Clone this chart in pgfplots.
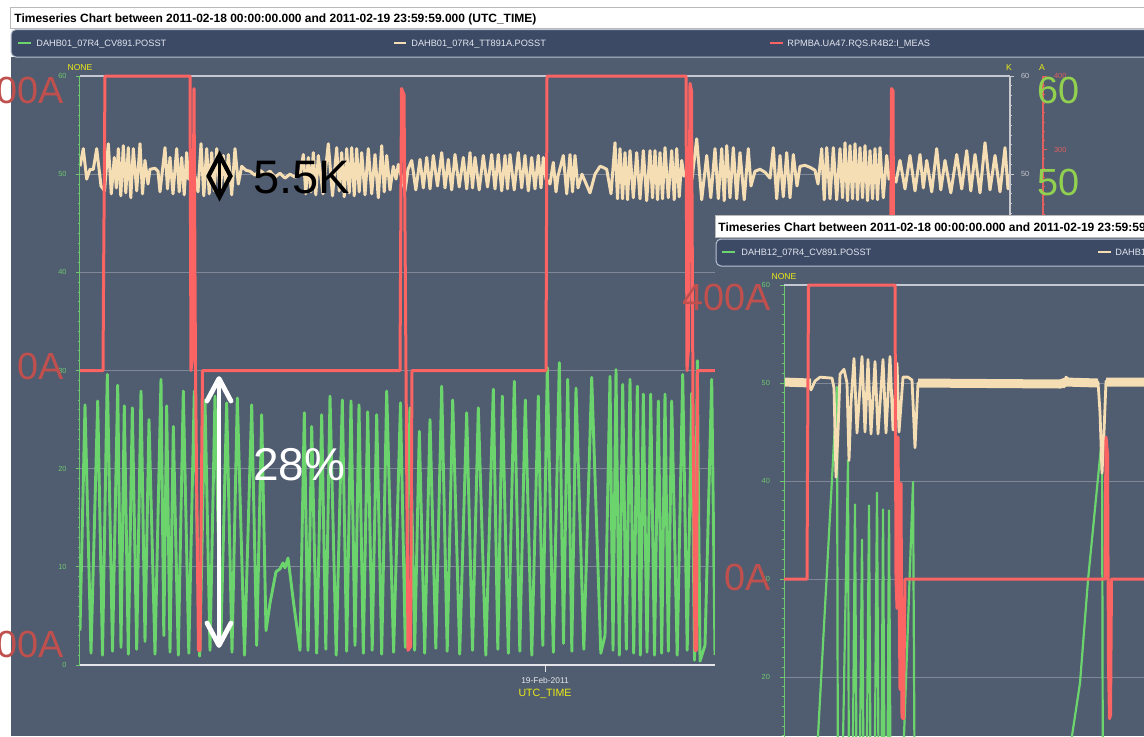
\documentclass[border=0pt]{standalone}
\usepackage{fontspec}
\setmainfont{Liberation Sans}
\usepackage{pgfplots}
\pgfplotsset{compat=1.18}

\definecolor{panel}{RGB}{80,92,112}
\definecolor{legendbar}{RGB}{61,74,102}
\definecolor{legendedge}{RGB}{185,195,210}
\definecolor{sig}{RGB}{108,212,108}
\definecolor{temp}{RGB}{245,222,180}
\definecolor{curr}{RGB}{252,100,100}
\definecolor{ticknone}{RGB}{110,200,110}
\definecolor{tickK}{RGB}{200,200,205}
\definecolor{tickA}{RGB}{225,95,95}
\definecolor{unitlab}{RGB}{235,235,20}
\definecolor{gridc}{RGB}{128,136,152}
\definecolor{topline}{RGB}{195,200,210}
\definecolor{bottomline}{RGB}{228,230,234}
\definecolor{bigred}{RGB}{192,80,77}
\definecolor{biggreen}{RGB}{146,208,80}
\definecolor{legtext}{RGB}{225,230,238}

\newcommand\fs[1]{\fontsize{#1}{#1}\selectfont}

\pgfplotsset{
  panelaxis/.style={
    scale only axis, anchor=south west,
    clip mode=individual,
    axis line style={draw=none},
    tick align=outside,
    major tick length=2pt, minor tick length=1.1pt,
    /pgf/number format/assume math mode=true,
    tick label style={font=\fs{3.7}},
  },
}

\begin{document}
\begin{tikzpicture}
\useasboundingbox (0,0) rectangle (572pt,-368pt);
\clip (0,0) rectangle (572pt,-368pt);

% ---------- frame, title and legend of the main chart ----------
\begin{scope}[x=0.5pt,y=-0.5pt]
  \fill[white] (0,0) rectangle (1144,736);
  \fill[panel] (11,57) rectangle (1144,736);
  \draw[fill=white, draw=gray!55, line width=0.5pt] (10,7) rectangle (1150,28);
  \node[anchor=base west, inner sep=0, font=\bfseries\fs{6}] at (14,22.5)
    {Timeseries Chart between 2011-02-18 00:00:00.000 and 2011-02-19 23:59:59.000 (UTC\_TIME)};
  \draw[fill=legendbar, draw=legendedge, line width=0.5pt, rounded corners=2.5pt] (11,29.5) rectangle (1160,57);
  % legend entries
  \draw[sig, line width=0.6pt] (18,43) -- (31,43);
  \fill[sig] (23.5,41.8) rectangle (25.5,44.2);
  \node[anchor=base west, inner sep=0, text=legtext, font=\fs{4.6}] at (36,46.3) {DAHB01\_07R4\_CV891.POSST};
  \draw[temp, line width=0.6pt] (394,43) -- (406,43);
  \fill[temp] (399,41.8) rectangle (401,44.2);
  \node[anchor=base west, inner sep=0, text=legtext, font=\fs{4.6}] at (411,46.3) {DAHB01\_07R4\_TT891A.POSST};
  \draw[curr, line width=0.6pt] (770,43) -- (783,43);
  \fill[curr] (775.5,41.8) rectangle (777.5,44.2);
  \node[anchor=base west, inner sep=0, text=legtext, font=\fs{4.6}] at (787,46.3) {RPMBA.UA47.RQS.R4B2:I\_MEAS};
  % unit captions of the three y axes and the time axis
  \node[anchor=base, inner sep=0, text=unitlab, font=\fs{4.3}] at (80,70) {NONE};
  \node[anchor=base, inner sep=0, text=unitlab, font=\fs{4.3}] at (1009,70) {K};
  \node[anchor=base, inner sep=0, text=unitlab, font=\fs{4.3}] at (1042,70) {A};
  \node[anchor=base, inner sep=0, text=unitlab, font=\fs{5.3}] at (545,696) {UTC\_TIME};
\end{scope}

% ---------- main chart: valve position (NONE) ----------
\begin{axis}[panelaxis, at={(40pt,-332.5pt)}, width=465pt, height=294.5pt,
  xmin=80, xmax=1010, ymin=0, ymax=60,
  ytick={0,10,...,60}, minor y tick num=9, ytick pos=left,
  y tick style={ticknone, line width=0.4pt},
  yticklabel style={text=ticknone, xshift=-1.2pt},
  xtick={545}, xticklabels={19-Feb-2011}, xtick pos=left,
  x tick style={draw=none},
  xticklabel style={text=bottomline, font=\fs{4.2}, yshift=-0.6pt},
  ymajorgrids, major grid style={gridc, line width=0.5pt}]
\addplot[sig, line width=1.45pt, line join=round] coordinates {
(80,3.5) (85,26.5) (91,1.2) (97.7,26.9) (102.5,1.0) (107.3,29.6) (112.5,1.4) (117.7,28.5)
(121,1.8) (124.3,26.4) (128.3,1.1) (132.3,26.2) (136.7,1.6) (141,27.9) (145,2.4) (149,25.0)
(155,1.1) (161,29.1) (163.8,3.0) (166.7,26.4) (170,1.3) (173.3,24.3) (178.3,1.0) (183.3,27.9)
(188.8,1.2) (194.3,27.9) (199.7,0.9) (205,27.0) (210,1.5) (215,27.4) (220.8,2.2) (226.7,26.7)
(232,1.3) (237.3,27.2) (244.5,1.0) (251.7,26.5) (256.7,2.0) (261.7,25.5) (266,3.5) (270,6.3)
(276,9.5) (280,9.8) (283,10.4) (285,9.9) (288,10.9) (294,6) (300,1.5) (304.3,25.7) (308,1.5)
(311.7,24.3) (316.7,1.2) (321.7,25.5) (325.8,1.6) (330,27.4) (336.2,1.0) (342.3,27.0) (346.7,1.4)
(351,26.9) (355,2.0) (359,26.5) (363.3,1.2) (367.7,25.8) (372.2,1.5) (376.7,25.5) (381.7,1.1)
(386.7,27.9) (393.6,1.3) (400.5,26.7) (405.3,1.8) (410,26.2) (414.7,1.5) (419.3,23.8) (424.7,1.2)
(430,25.0) (435.8,1.7) (441.7,28.4) (447.2,1.4) (452.7,27.0) (459.7,1.1) (466.7,25.7) (472.5,1.5)
(478.3,26.2) (485.8,1.0) (493.3,28.1) (497.8,1.6) (502.3,27.4) (508.3,1.2) (514.3,28.9) (519.8,1.4)
(525.3,27.0) (531.8,1.0) (538.3,27.4) (542.8,2.0) (547.3,30.3) (553.3,1.3) (559.3,30.8) (563.5,2.2)
(567.7,29.1) (571.8,1.4) (576,28.2) (583.8,1.6) (591.7,29.3) (600.8,1.2) (605,3) (610,29.4)
(613,1.5) (616,30.1) (619.3,1.0) (622.7,28.6) (626.3,1.6) (630,29.1) (633.7,1.2) (637.3,28.4)
(640.3,1.0) (643.3,27.6) (647,1.3) (650.7,27.6) (654.5,1.0) (658.3,26.9) (661.7,1.2) (665,27.6)
(668.3,1.4) (671.7,26.9) (677.2,1.0) (682.7,29.6) (687.2,1.5) (691.7,27.7) (694.5,0.5) (697.3,31.0)
(700,0.4) (705,2) (711.7,29.1) (715,1.0)
};
\draw[ticknone, line width=0.5pt] (rel axis cs:0,0) -- (rel axis cs:0,1);
\draw[bottomline, line width=0.7pt] (rel axis cs:0,0) -- (rel axis cs:1,0);
\draw[topline, line width=0.7pt] (rel axis cs:0,1) -- (rel axis cs:1,1);
\draw[bottomline, line width=0.5pt] (axis cs:545,0) -- ([yshift=-3.5pt]axis cs:545,0);
\end{axis}

% ---------- main chart: temperature (K) ----------
\begin{axis}[panelaxis, at={(40pt,-332.5pt)}, width=465pt, height=294.5pt,
  xmin=80, xmax=1010, ymin=0, ymax=60, xtick=\empty,
  ytick={0,10,...,60}, minor y tick num=9, ytick pos=right,
  y tick style={tickK, line width=0.4pt}, yticklabel style={text=tickK}]
\addplot[temp, line width=1.5pt, line join=round] coordinates {
(80,50.8) (83.3,52.6) (86.7,49.5) (90,50.5) (93.3,50.5) (96.7,52.6) (101,48.8) (104.5,48.3)
(108.3,53.1) (111.3,48.0) (114.3,51.7) (116.3,48.6) (118.3,52.6) (120.8,47.8) (123.3,52.9) (125.8,48.1)
(128.3,52.7) (130.8,47.6) (133.3,52.6) (136.7,48.3) (140,53.1) (142.5,48.0) (145,51.4) (148,49.0)
(150,50.5) (155,50.6) (158,50.3) (160,48.2) (165,52.7) (167.5,48.5) (170,51.7) (173,48.0)
(176.7,52.6) (179.2,48.2) (181.7,51.7) (184.2,47.9) (186.7,52.2) (188.5,49.5) (190,50) (195,49.8)
(198,48.2) (201,53.1) (203.8,47.8) (206.7,52.6) (209.2,48.0) (211.7,52.2) (214.2,48.3) (216.7,52.6)
(220,48.1) (223.3,51.9) (225.8,48.8) (228.3,52.0) (231.7,47.9) (235,52.6) (238.3,49.0) (241.7,50.8)
(246,50.4) (250,50.3) (255,49.9) (260,50.4) (265,50.0) (270,50.3) (275,49.7) (280,50.1) (285,49.6)
(290,50.0) (295,49.7) (300,49.9) (303.3,52.0) (305.8,48.0) (308.3,51.7) (310.8,48.2) (313.3,52.2)
(315.8,47.9) (318.3,51.9) (323,48.0) (328.3,53.1) (332.5,47.8) (336.7,52.7) (339.2,48.3) (341.7,52.2)
(344.2,47.7) (346.7,52.6) (349.2,48.1) (351.7,52.7) (354.2,47.8) (356.7,52.6) (359.2,48.2) (361.7,52.2)
(365,47.9) (368.3,52.6) (371.7,48.0) (375,52.0) (378.3,47.6) (381.7,52.9) (384.2,48.2) (386.7,51.9)
(390,48.4) (393.3,50.8) (396,49.5) (398.3,51.0) (402,49.5) (405,48.3) (408,50.5) (411.7,51.4)
(415.8,48.4) (420,51.5) (423.3,48.6) (426.7,51.7) (430,48.5) (433.3,51.9) (437.5,48.8) (441.7,52.2)
(445,48.6) (448.3,51.5) (451.7,48.4) (455,52.0) (459.2,48.7) (463.3,51.7) (466.7,48.5) (470,52.2)
(472.5,48.6) (475,51.7) (479.2,48.4) (483.3,51.9) (487.5,48.7) (491.7,52.0) (495,48.5) (498.3,52.0)
(501.7,48.3) (505,51.9) (507.5,48.5) (510,52.0) (514.2,48.4) (518.3,52.2) (521.7,48.6) (525,51.9)
(528.3,48.3) (531.7,51.7) (535,48.5) (538.3,51.9) (541,48.6) (543.3,51.7) (546,49.5) (550,49.0)
(553.3,51.2) (556,48.2) (558,49.8) (563.3,51.9) (566.7,48.0) (570,52.0) (572.5,48.2) (575,51.9)
(578,48.6) (582,50.0) (590,48.1) (595,50.0) (600,50.8) (603,50.7) (606.7,50.5) (611,48.0)
(615,53.2) (617.5,47.5) (620,52.6) (622.5,47.5) (625,52.2) (627.5,47.4) (630,52.4) (633.3,47.6)
(636.7,52.2) (640,47.5) (643.3,52.4) (646.7,47.3) (650,52.4) (652.5,47.6) (655,52.4) (657.5,47.4)
(660,52.2) (662.5,47.5) (665,52.7) (668.3,47.6) (671.7,52.4) (674.2,47.4) (676.7,52.6) (679.2,47.7)
(681.7,51.4) (684,49.8) (687,50.2) (692,49.5) (696.7,53.6) (701.7,47.4) (706.7,51.9) (710.8,47.6)
(715,52.6) (718.3,47.5) (721.7,52.6) (724.2,47.3) (726.7,52.9) (730,47.6) (733.3,52.7) (736.7,47.5)
(740,52.2) (744.2,47.4) (748.3,52.6) (751,48.8) (755,50.3) (760,50.5) (765,50.2) (770,49.6)
(773.3,52.7) (776.7,47.5) (780,51.9) (783.3,47.7) (786.7,52.2) (790,47.6) (793.3,52.0) (797,48.8)
(800,50.8) (805,50.9) (810,50.7) (815,50.4) (818,49.0) (821.7,52.6) (824.2,47.4) (826.7,52.7)
(830,47.5) (833.3,52.7) (836.7,47.4) (840,52.6) (842.5,47.6) (845,53.2) (847.5,47.3) (850,52.9)
(852.5,47.5) (855,53.1) (857.5,47.4) (860,52.7) (862.5,47.6) (865,52.9) (867.5,47.3) (870,52.4)
(872.5,47.5) (875,52.6) (877.5,47.4) (880,52.7) (883.3,47.6) (886.7,51.9) (889,49.5) (892,50.0)
(896,49.2) (900,51.4) (905,48.5) (910,51.9) (915,48.3) (920,52.0) (923.3,48.6) (926.7,51.4)
(931.7,48.2) (936.7,52.6) (940.8,48.4) (945,51.4) (950.8,48.1) (956.7,52.0) (961.7,48.5) (966.7,52.4)
(970.8,48.3) (975,52.0) (980,48.1) (985,53.2) (990,48.4) (995,51.9) (1000,48.2) (1005,52.7)
(1008,48.5) (1010,50.0)
};
\draw[tickK, line width=0.6pt] (rel axis cs:1,0) -- (rel axis cs:1,1);
\end{axis}

% ---------- main chart: magnet current (A) ----------
\begin{axis}[panelaxis, at={(40pt,-332.5pt)}, width=481.5pt, height=294.5pt, clip=false,
  xmin=80, xmax=1043, ymin=-400, ymax=400, xtick=\empty,
  ytick={-400,-300,...,400}, minor y tick num=7, ytick pos=right,
  y tick style={tickA, line width=0.4pt}, yticklabel style={text=tickA}]
\addplot[curr, line width=1.5pt, line join=round] coordinates {
(80,0) (103,0) (103.5,110) (105,400) (190,400) (191,0) (192.5,20) (194,383) (195.5,0)
(197,-200) (198.5,-380) (200,-380) (201.5,-150) (202.5,0) (400,0) (401.5,383) (404,375)
(406,0) (408,-380) (410.5,-375) (412,0) (546,0) (547,400) (686,400) (687,0) (688.5,30)
(690,390) (691.5,380) (693,-50) (695,-380) (696.5,-380) (697.5,0) (890,0) (891.5,383)
(893,380) (894,0) (895,-380) (896.5,-370) (897.5,0) (1010,0)
};
\draw[tickA, line width=0.6pt] (rel axis cs:1,0) -- (rel axis cs:1,1);
\end{axis}

% ---------- second chart window ----------
\begin{scope}[x=0.5pt,y=-0.5pt]
  \fill[panel] (715,237) rectangle (1144,736);
  \draw[fill=white, draw=gray!55, line width=0.5pt] (715,215) rectangle (1150,237.5);
  \node[anchor=base west, inner sep=0, font=\bfseries\fs{6}] at (718,231)
    {Timeseries Chart between 2011-02-18 00:00:00.000 and 2011-02-19 23:59:59.000 (UTC\_TIME)};
  \draw[fill=legendbar, draw=legendedge, line width=0.5pt, rounded corners=2.5pt] (716,239) rectangle (1160,266);
  \draw[sig, line width=0.6pt] (722,252) -- (735,252);
  \fill[sig] (727.5,250.8) rectangle (729.5,253.2);
  \node[anchor=base west, inner sep=0, text=legtext, font=\fs{4.6}] at (741,255.3) {DAHB12\_07R4\_CV891.POSST};
  \draw[temp, line width=0.6pt] (1098,252) -- (1111,252);
  \fill[temp] (1103.5,250.8) rectangle (1105.5,253.2);
  \node[anchor=base west, inner sep=0, text=legtext, font=\fs{4.6}] at (1115,255.3) {DAHB12\_07R4\_TT891A.POSST};
  \node[anchor=base, inner sep=0, text=unitlab, font=\fs{4.3}] at (784,279) {NONE};
\end{scope}

\begin{axis}[panelaxis, at={(392pt,-436.5pt)}, width=308pt, height=294pt,
  xmin=784, xmax=1400, ymin=0, ymax=60, xtick=\empty,
  ytick={0,10,...,60}, minor y tick num=9, ytick pos=left,
  y tick style={ticknone, line width=0.4pt},
  yticklabel style={text=ticknone, xshift=-1.5pt},
  ymajorgrids, major grid style={gridc, line width=0.5pt}]
% noisy band of the temperature trace
\addplot[temp, line width=4.5pt, unbounded coords=jump] coordinates {
(784,50.1) (811,50.0) (812,nan) (918,50.0) (1060,49.9) (1066,50.1) (1098,50.0) (1099,nan)
(1106,50.1) (1144,50.1)
};
\addplot[sig, line width=1.1pt, line join=round] coordinates {
(784,1) (811,1) (818,14) (826,29) (837,49.6) (838,2) (841,2) (848,42.1) (849,2) (852,2)
(855,37.6) (857,2) (859,2) (862,34) (864,2) (866,2) (869,37.5) (871,2) (874,2) (877,38.8)
(879,2) (881,2) (883,37.1) (885,2) (887,2) (889,37) (891,2) (900,2) (904,14) (913,39.9)
(915,2) (1066,2) (1072,14) (1080,19.4) (1088,29.9) (1102,44.5) (1103,2) (1144,2)
};
\addplot[temp, line width=1.4pt, line join=round] coordinates {
(784,50.2) (800,50.0) (808,50.1) (811,49.3) (815,50.2) (820,50.6) (832,50.5) (834,49.5)
(836,40.4) (838,45) (840,50.9) (844,51.4) (847,50) (849,42.1) (851,48) (854,52.5) (857,44.9)
(862,52.7) (865,45.0) (868,52.4) (871,44.8) (875,52.2) (878,44.8) (883,52.4) (886,44.9)
(890,52.7) (893,45.2) (897,52.0) (899,45.0) (903,50.6) (908,50.6) (912,50.3) (915,43.4)
(918,50.0) (1060,50.0) (1064,49.6) (1066,50.6) (1070,50.2) (1098,50.1) (1100,47.0) (1102,40.8)
(1104,45) (1106,50.2) (1144,50.1)
};
\draw[ticknone, line width=0.5pt] (rel axis cs:0,0) -- (rel axis cs:0,1);
\draw[topline, line width=0.7pt] (rel axis cs:0,1) -- (rel axis cs:1,1);
\end{axis}

\begin{axis}[panelaxis, at={(392pt,-436.5pt)}, width=308pt, height=294pt, clip=false,
  xmin=784, xmax=1400, ymin=-400, ymax=400, hide axis]
\addplot[curr, line width=1.5pt, line join=round] coordinates {
(784,0) (807,0) (807.5,150) (808.5,400) (895,400) (896,0) (897,-40) (898,193) (899,10)
(900,-150) (901,130) (902,-188) (903.5,-190) (904.5,-60) (905,0) (1105,0) (1106,193)
(1107.5,170) (1108.5,-120) (1109.5,-190) (1110.5,-185) (1111.5,0) (1144,0)
};
\end{axis}

% ---------- annotations ----------
\begin{scope}[x=0.5pt,y=-0.5pt]
  \node[anchor=base east, inner sep=0, text=bigred, font=\fs{18.9}] at (64,103) {400A};
  \node[anchor=base east, inner sep=0, text=bigred, font=\fs{18.9}] at (64,379) {0A};
  \node[anchor=base east, inner sep=0, text=bigred, font=\fs{18.9}] at (64,657) {-400A};
  \node[anchor=base east, inner sep=0, text=bigred, font=\fs{18.9}] at (771,310) {400A};
  \node[anchor=base east, inner sep=0, text=bigred, font=\fs{18.9}] at (771,590) {0A};
  \node[anchor=base west, inner sep=0, text=biggreen, font=\fs{18.9}] at (1037.5,103) {60};
  \node[anchor=base west, inner sep=0, text=biggreen, font=\fs{18.9}] at (1037.5,195) {50};
  \node[anchor=base west, inner sep=0, text=black, font=\fs{23.5}] at (253,193) {5.5K};
  \node[anchor=base west, inner sep=0, text=white, font=\fs{23}] at (253,480) {28\%};
  % 5.5 K span marker
  \draw[black, line width=2.1pt, line join=miter] (219.5,155) -- (208.5,176) -- (219.5,197) -- (230.5,176) -- cycle;
  \draw[black, line width=1.2pt] (219.5,159) -- (219.5,193);
  % 28 % span arrow
  \draw[white, line width=2.4pt] (219,381) -- (219,643);
  \draw[white, line width=2.4pt, line cap=round, line join=round] (207,401) -- (219,378.5) -- (231,401);
  \draw[white, line width=2.4pt, line cap=round, line join=round] (207,623) -- (219,645.5) -- (231,623);
\end{scope}
\end{tikzpicture}
\end{document}
